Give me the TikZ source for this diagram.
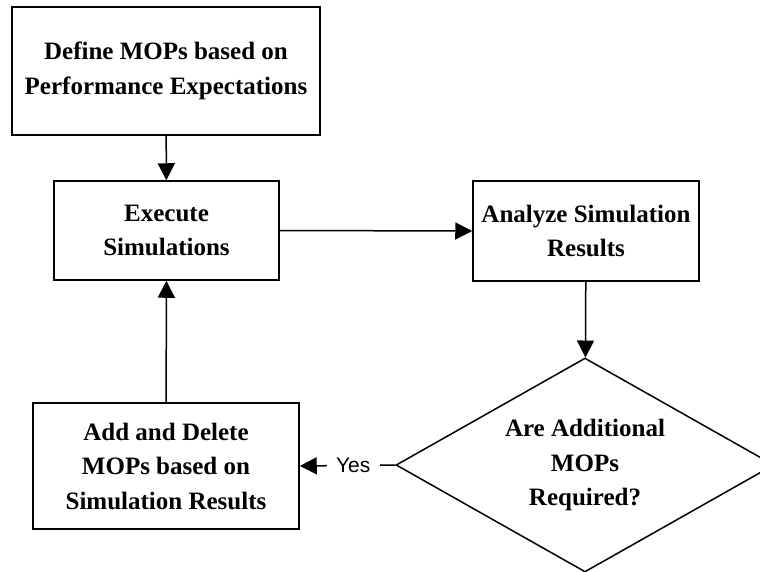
\documentclass[tikz,border=0pt]{standalone}
\usepackage{fontspec}
\setmainfont{Liberation Serif}
\newfontfamily\yesfont{Liberation Sans}
\usetikzlibrary{shapes.geometric,arrows.meta}

\begin{document}
\begin{tikzpicture}[x=1pt,y=-1pt,
    stepbox/.style={draw,line width=1.5pt,inner sep=0pt,align=center,
      font=\bfseries\fontsize{25}{34.5}\selectfont},
    decision/.style={stepbox,diamond,aspect=1.77},
    flow/.style={line width=1.5pt,-{Triangle[length=17pt,width=17pt]}}]
      \clip (0,0) rectangle (760,571);

      \node[stepbox,minimum width=308pt,minimum height=128pt]
        (define) at (166,71)
        {Define MOPs based on\\Performance Expectations};

      \node[stepbox,minimum width=225pt,minimum height=99pt]
        (execute) at (166.5,230.5)
        {Execute\\Simulations};

      \node[stepbox,minimum width=226pt,minimum height=100pt]
        (analyze) at (586,231)
        {Analyze Simulation\\Results};

      \node[decision,minimum width=378pt,minimum height=214pt]
        (required) at (585,465)
        {Are Additional\\MOPs\\Required?};

      \node[stepbox,minimum width=266pt,minimum height=126pt]
        (adddelete) at (166,466)
        {Add and Delete\\MOPs based on\\Simulation Results};

      \draw[flow] (define) -- (execute);
      \draw[flow] (execute.east) -- (analyze.west);
      \draw[flow] (analyze) -- (required);
      \draw[flow] (adddelete) -- (execute);

      {
        \draw[flow] (required.west) --
          node[pos=0.44,fill=white,inner xsep=9.5pt,inner ysep=2pt,
            font=\yesfont\fontsize{21}{24}\selectfont] (yes) {Yes}
          (adddelete.east);
      }
    \end{tikzpicture}
\end{document}
